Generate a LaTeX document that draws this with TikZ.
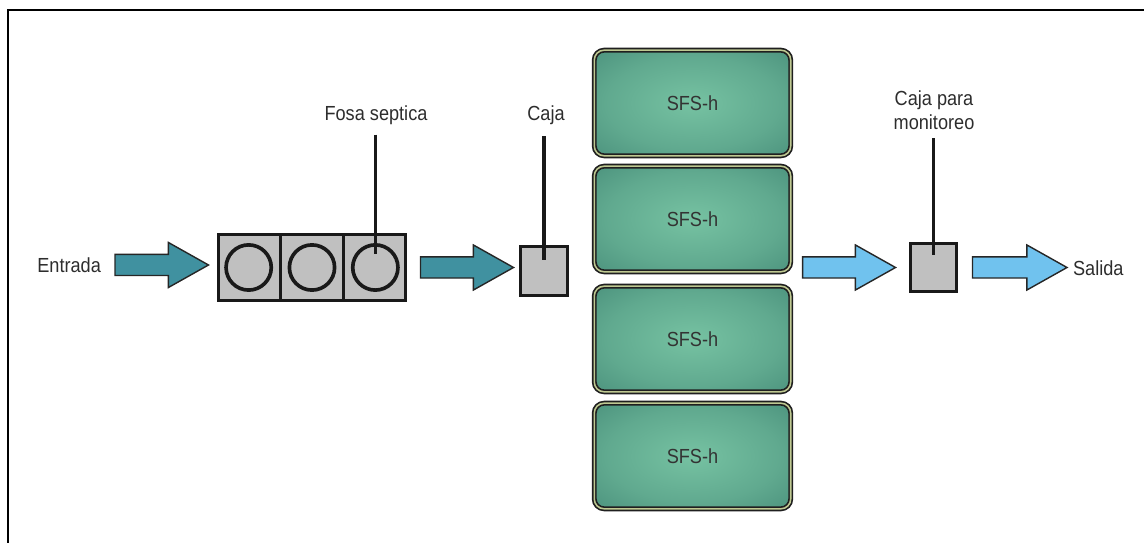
\documentclass[tikz,border=0pt]{standalone}
\usepackage{fontspec}
\setmainfont{Liberation Sans}[FakeStretch=0.89]
\usetikzlibrary{calc}

\definecolor{azulverde}{RGB}{64,145,160}
\definecolor{celeste}{RGB}{112,194,238}
\definecolor{gris}{RGB}{192,192,192}
\definecolor{sfsclaro}{RGB}{118,194,162}
\definecolor{sfsoscuro}{RGB}{56,124,108}
\definecolor{oliva}{RGB}{190,200,145}
\definecolor{texto}{RGB}{45,45,45}

% relleno de los filtros: claro al centro, oscuro hacia los bordes
\pgfdeclareradialshading[sfsclaro,sfsoscuro]{filtrado}{\pgfpoint{0bp}{0bp}}{%
  color(0bp)=(sfsclaro); color(22bp)=(sfsclaro!65!sfsoscuro);
  color(50bp)=(sfsoscuro); color(72bp)=(sfsoscuro)}

% flecha gruesa horizontal: \flecha{color}{desde}{hasta}
\newcommand{\flecha}[3]{%
  \path[flecha, fill=#1] let \p1=#2, \p2=#3 in
    (\x1,{\y1+7.5pt}) -- ({\x2-28.5pt},{\y1+7.5pt}) -- ({\x2-28.5pt},{\y1+16pt})
    -- (\x2,\y1) -- ({\x2-28.5pt},{\y1-16pt}) -- ({\x2-28.5pt},{\y1-7.5pt})
    -- (\x1,{\y1-7.5pt}) -- cycle;}

\begin{document}
\begin{tikzpicture}[x=0.025cm, y=-0.025cm, font=\fontsize{14.5}{17}\selectfont,
  etiqueta/.style={text=texto, inner sep=2pt},
  cajagris/.style={draw=black!90, fill=gris, line width=2.1pt, inner sep=0pt},
  camara/.style={circle, draw=black!90, line width=2.6pt, minimum size=1.13cm, inner sep=0pt},
  filtro/.style={rounded corners=7pt, draw=black!88, double=oliva, double distance=1.1pt,
    line width=1.2pt, shading=filtrado, minimum width=4.91cm, minimum height=2.64cm,
    text=black!80},
  guia/.style={draw=black!90, line width=2.2pt},
  flecha/.style={draw=black!85, line width=1pt}]

  \useasboundingbox (0,0) rectangle (1144,543);
  \draw[line width=1.4pt] (8,543) -- (8,10) -- (1144,10);

  % entrada y fosa septica
  \node[etiqueta, anchor=east] (entrada) at (104,265) {Entrada};
  \node[cajagris, minimum width=4.675cm, minimum height=1.65cm] (fosa) at (312,267.5) {};
  \draw[guia] ($(fosa.north west)!1/3!(fosa.north east)$) -- ($(fosa.south west)!1/3!(fosa.south east)$);
  \draw[guia] ($(fosa.north west)!2/3!(fosa.north east)$) -- ($(fosa.south west)!2/3!(fosa.south east)$);
  \foreach \i in {1,2,3}
    \node[camara] (c\i) at ($(fosa.west)!{(2*\i-1)/6}!(fosa.east)$) {};
  \node[etiqueta] (lfosa) at (376,115) {Fosa septica};
  \draw[guia, shorten <=5pt] (c3.center |- lfosa.south) -- ($(c3.center)+(0,-13)$);

  % caja
  \node[cajagris, minimum width=1.175cm, minimum height=1.225cm] (caja) at (544,271) {};
  \node[etiqueta] (lcaja) at (546,115) {Caja};
  \draw[guia, shorten <=6pt] (caja.center |- lcaja.south) -- ($(caja.center)+(0,-11)$);

  % filtros
  \foreach \i/\y in {1/103, 2/219, 3/339, 4/456}
    \node[filtro] (sfs\i) at (692.5,\y) {SFS-h};

  % caja para monitoreo y salida
  \node[cajagris, minimum width=1.15cm, minimum height=1.2cm] (monitor) at (933.5,267.5) {};
  \node[etiqueta, align=center] (lmonitor) at (934,110) {Caja para\\monitoreo};
  \draw[guia, shorten <=4pt] (monitor.center |- lmonitor.south) -- ($(monitor.center)+(0,-12)$);
  \node[etiqueta, anchor=west] (salida) at (1070,268) {Salida};

  % flechas
  \flecha{azulverde}{($(entrada.east)+(11,0)$)}{($(fosa.west)+(-8.5,0)$)}
  \flecha{azulverde}{($(fosa.east)+(13.5,0)$)}{($(caja.west)+(-5.5,0)$)}
  \flecha{celeste}{($(sfs2.east |- monitor.west)+(11,0)$)}{($(monitor.west)+(-13.5,0)$)}
  \flecha{celeste}{($(monitor.east)+(14.5,0)$)}{($(salida.west)+(-3,0)$)}
\end{tikzpicture}
\end{document}
